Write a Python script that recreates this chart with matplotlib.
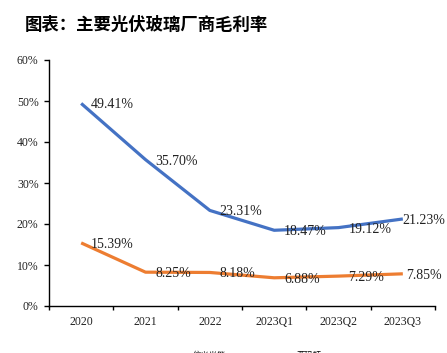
import matplotlib
matplotlib.use("Agg")
import matplotlib.pyplot as plt
import numpy as np

categories = ["2020", "2021", "2022", "2023Q1", "2023Q2", "2023Q3"]
xinyi = [49.41, 35.70, 23.31, 18.47, 19.12, 21.23]
yamaton = [15.39, 8.25, 8.18, 6.88, 7.29, 7.85]
series_names = ["信义光能", "亚玛顿"]
yticks = [0, 10, 20, 30, 40, 50, 60]

W, H = 447, 353
fig = plt.figure(figsize=(W / 100, H / 100), dpi=100)
ax = fig.add_axes([49 / W, 1 - 306 / H, (435 - 49) / W, (306 - 60) / H])

serif = ["Liberation Serif", "DejaVu Serif"]
x = np.arange(len(categories))
blue = "#4472C4"
orange = "#ED7D31"
l1, = ax.plot(x, xinyi, color=blue, lw=2.3, solid_capstyle="butt", label=series_names[0])
l2, = ax.plot(x, yamaton, color=orange, lw=2.3, solid_capstyle="butt", label=series_names[1])

offs = [10, 10, 10, 10, 10, 0]
for i, (a, b) in enumerate(zip(xinyi, yamaton)):
    for v, extra in ((a, 0), (b, 3 if i == len(x) - 1 else 0)):
        ax.annotate(f"{v:.2f}%", (x[i], v), xytext=(offs[i] + extra, -1.5),
                    textcoords="offset pixels", ha="left", va="center",
                    fontsize=10, family=serif, color="#222222")

ax.set_xlim(-0.5, len(x) - 0.5)
ax.set_ylim(0, 60)
ax.set_yticks(yticks)
ax.set_yticklabels([f"{v}%" for v in yticks], family=serif, fontsize=8.5, color="#222222")
ax.set_xticks(np.arange(-0.5, len(x)))
ax.set_xticklabels([])
ax.set_xticks(x, minor=True)
ax.set_xticklabels(categories, minor=True, family=serif, fontsize=8.5, color="#222222")
ax.tick_params(axis="x", which="major", direction="out", length=3, width=1.0)
ax.tick_params(axis="x", which="minor", length=0, pad=7)
ax.tick_params(axis="y", direction="out", length=3.5, width=1.0, pad=4)
for s in ("top", "right"):
    ax.spines[s].set_visible(False)
for s in ("left", "bottom"):
    ax.spines[s].set_linewidth(1.0)
    ax.spines[s].set_color("black")

fig.text(25 / W, 1 - 25 / H, "图表：主要光伏玻璃厂商毛利率", fontsize=12.5, fontweight="bold",
         family=["Noto Sans CJK SC", "DejaVu Sans"], ha="left", va="center")

fig.legend(handles=[l1, l2], loc="center", bbox_to_anchor=(0.545, 1 - 355 / H), ncol=2,
           frameon=False, prop={"family": ["Noto Sans CJK SC", "DejaVu Sans"], "size": 6},
           handlelength=2.5, handletextpad=0.8, columnspacing=5.2)

fig.savefig("out.png", dpi=100)
